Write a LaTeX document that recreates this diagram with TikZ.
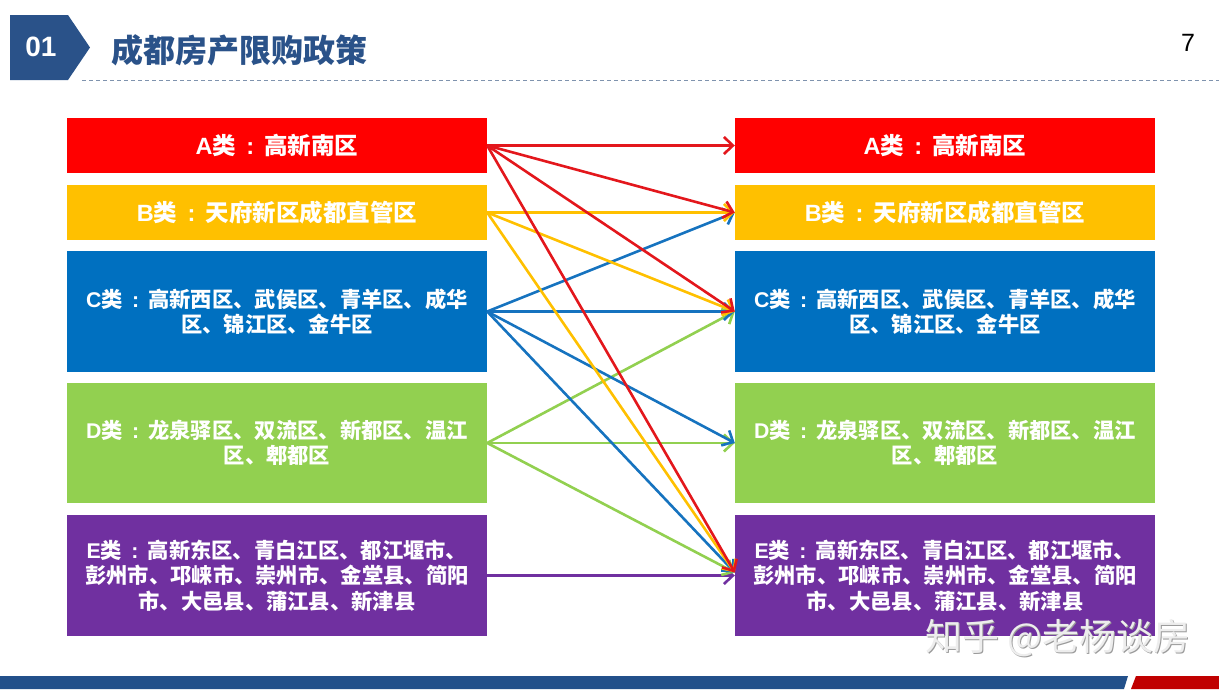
\documentclass[tikz,border=0pt]{standalone}
\usepackage{fontspec}
\setmainfont{Liberation Sans}
\newfontfamily\cjk{Noto Sans CJK SC}
\usetikzlibrary{arrows.meta}
\definecolor{cA}{HTML}{FF0000}
\definecolor{cB}{HTML}{FFC000}
\definecolor{cC}{HTML}{0070C0}
\definecolor{cD}{HTML}{92D050}
\definecolor{cE}{HTML}{7030A0}
\definecolor{lA}{HTML}{E3171C}
\definecolor{lB}{HTML}{FFC000}
\definecolor{lC}{HTML}{1673BF}
\definecolor{lD}{HTML}{92D050}
\definecolor{lE}{HTML}{7030A0}
\definecolor{hdr}{HTML}{2A5289}
\definecolor{barblue}{HTML}{22508A}
\definecolor{barred}{HTML}{C00000}
\definecolor{dashcol}{HTML}{7F93AE}
\definecolor{wmfill}{HTML}{EDEDED}
\definecolor{wmshadow}{HTML}{9A9A9A}
\newcommand\lat[1]{{\normalfont\bfseries #1}}
\newcommand\colonbox{\makebox[1.2em][c]{\normalfont\bfseries :}}
\begin{document}
\begin{tikzpicture}[x=1pt,y=-1pt,
  box/.style={minimum width=420pt, minimum height=#1, inner sep=0pt, text=white,
    align=center, font=\cjk\bfseries\fontsize{21.3}{25.5}\selectfont},
  bigtext/.style={font=\cjk\bfseries\fontsize{23.5}{27}\selectfont},
  link/.style={line width=2.6pt, draw=#1, -{Straight Barb[length=9pt,width=17pt]}}]
\useasboundingbox (0,0) rectangle (1219,689);
% header
\fill[hdr] (10,15) -- (68,15) -- (90,47.5) -- (68,80) -- (10,80) -- cycle;
\node[text=white, font=\bfseries\fontsize{28}{28}\selectfont] (num) at (41,47) {01};
\node[anchor=west, inner sep=0pt, text=hdr, font=\cjk\bfseries\fontsize{32}{32}\selectfont] (title) at (111,50) {成都房产限购政策};
\node[font=\fontsize{25}{25}\selectfont] (page) at (1188,43) {7};
\draw[dashcol, line width=1pt, dash pattern=on 4pt off 3pt] (82,80) -- (1219,80);
% bottom bar
\fill[barblue] (0,676) -- (1128,676) -- (1124,689) -- (0,689) -- cycle;
\fill[barred] (1136,676) -- (1219,676) -- (1219,689) -- (1131,689) -- cycle;
% left boxes
\node[box=55pt, bigtext, fill=cA] (a1) at (277,145.5) {\lat{A}类\colonbox 高新南区};
\node[box=55pt, bigtext, fill=cB] (b1) at (277,212.5) {\lat{B}类\colonbox 天府新区成都直管区};
\node[box=121pt, fill=cC] (c1) at (277,311.5) {\lat{C}类\colonbox 高新西区、武侯区、青羊区、成华\\区、锦江区、金牛区};
\node[box=120pt, fill=cD] (d1) at (277,443) {\lat{D}类\colonbox 龙泉驿区、双流区、新都区、温江\\区、郫都区};
\node[box=121pt, fill=cE] (e1) at (277,575.5) {\lat{E}类\colonbox 高新东区、青白江区、都江堰市、\\彭州市、邛崃市、崇州市、金堂县、简阳\\市、大邑县、蒲江县、新津县};
% right boxes
\node[box=55pt, bigtext, fill=cA] (a2) at (945,145.5) {\lat{A}类\colonbox 高新南区};
\node[box=55pt, bigtext, fill=cB] (b2) at (945,212.5) {\lat{B}类\colonbox 天府新区成都直管区};
\node[box=121pt, fill=cC] (c2) at (945,311.5) {\lat{C}类\colonbox 高新西区、武侯区、青羊区、成华\\区、锦江区、金牛区};
\node[box=120pt, fill=cD] (d2) at (945,443) {\lat{D}类\colonbox 龙泉驿区、双流区、新都区、温江\\区、郫都区};
\node[box=121pt, fill=cE] (e2) at (945,575.5) {\lat{E}类\colonbox 高新东区、青白江区、都江堰市、\\彭州市、邛崃市、崇州市、金堂县、简阳\\市、大邑县、蒲江县、新津县};
% connectors
\coordinate (eT) at ([yshift=3pt]e2.west);
\draw[link=lE] (e1.east) -- (e2.west);
\draw[link=lD] (d1.east) -- (c2.west);
\draw[link=lD] (d1.east) -- (d2.west);
\draw[link=lD] (d1.east) -- (eT);
\draw[link=lC] (c1.east) -- (b2.west);
\draw[link=lC] (c1.east) -- (c2.west);
\draw[link=lC] (c1.east) -- (d2.west);
\draw[link=lC] (c1.east) -- (eT);
\draw[link=lB] (b1.east) -- (b2.west);
\draw[link=lB] (b1.east) -- (c2.west);
\draw[link=lB] (b1.east) -- (eT);
\draw[link=lA] (a1.east) -- (a2.west);
\draw[link=lA] (a1.east) -- (b2.west);
\draw[link=lA] (a1.east) -- (c2.west);
\draw[link=lA] (a1.east) -- (eT);
% watermark
\node[anchor=west, inner sep=0pt, text=wmshadow, font=\cjk\fontsize{37}{37}\selectfont] (wms) at (926.5,639.5) {知乎 @老杨谈房};
\node[anchor=west, inner sep=0pt, text=wmfill, font=\cjk\fontsize{37}{37}\selectfont] (wm) at (925,638) {知乎 @老杨谈房};
\end{tikzpicture}
\end{document}
